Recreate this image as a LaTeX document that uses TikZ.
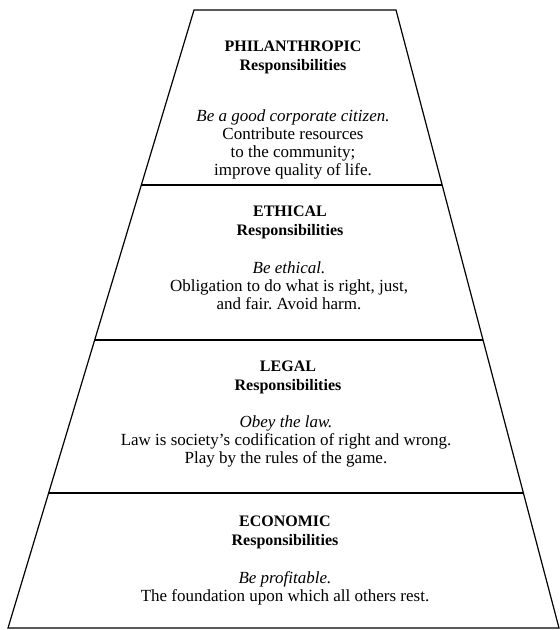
\documentclass[tikz,border=0pt]{standalone}
\usepackage{fontspec}
\setmainfont{Liberation Serif}
\usetikzlibrary{calc}
\frenchspacing

\begin{document}
\begin{tikzpicture}[x=1pt, y=-1pt, line width=1.2pt,
    font=\fontsize{17}{18}\selectfont,
    head/.style={font=\fontsize{16}{19}\selectfont\bfseries, align=center, inner sep=0pt},
    body/.style={align=center, inner sep=0pt}]
  \useasboundingbox (0,0) rectangle (560,630);
  % pyramid corners
  \coordinate (tl) at (194,10);
  \coordinate (tr) at (396,10);
  \coordinate (bl) at (8,628);
  \coordinate (br) at (559,628);
  % outline
  \draw (bl) -- (tl) -- (tr) -- (br) -- cycle;
  % tier dividers
  \foreach \yy in {185,340,493} {
    \draw ($(tl)!{(\yy-10)/618}!(bl)$) -- ($(tr)!{(\yy-10)/618}!(br)$);
  }
  % philanthropic
  \node[head] (phil-head) at (293,57) {PHILANTHROPIC\\Responsibilities};
  \node[body] (phil-body) at (293,144) {\textit{Be a good corporate citizen.}\\Contribute resources\\to the community;\\improve quality of life.};
  % ethical
  \node[head] (eth-head) at (290,222) {ETHICAL\\Responsibilities};
  \node[body] (eth-body) at (289,286) {\textit{Be ethical.}\\Obligation to do what is right, just,\\and fair. Avoid harm.};
  % legal
  \node[head] (leg-head) at (288,377) {LEGAL\\Responsibilities};
  \node[body] (leg-body) at (286,441) {\textit{Obey the law.}\\Law is society's codification of right and wrong.\\Play by the rules of the game.};
  % economic
  \node[head] (eco-head) at (285,532) {ECONOMIC\\Responsibilities};
  \node[body] (eco-body) at (285,588) {\textit{Be profitable.}\\The foundation upon which all others rest.};
\end{tikzpicture}
\end{document}
